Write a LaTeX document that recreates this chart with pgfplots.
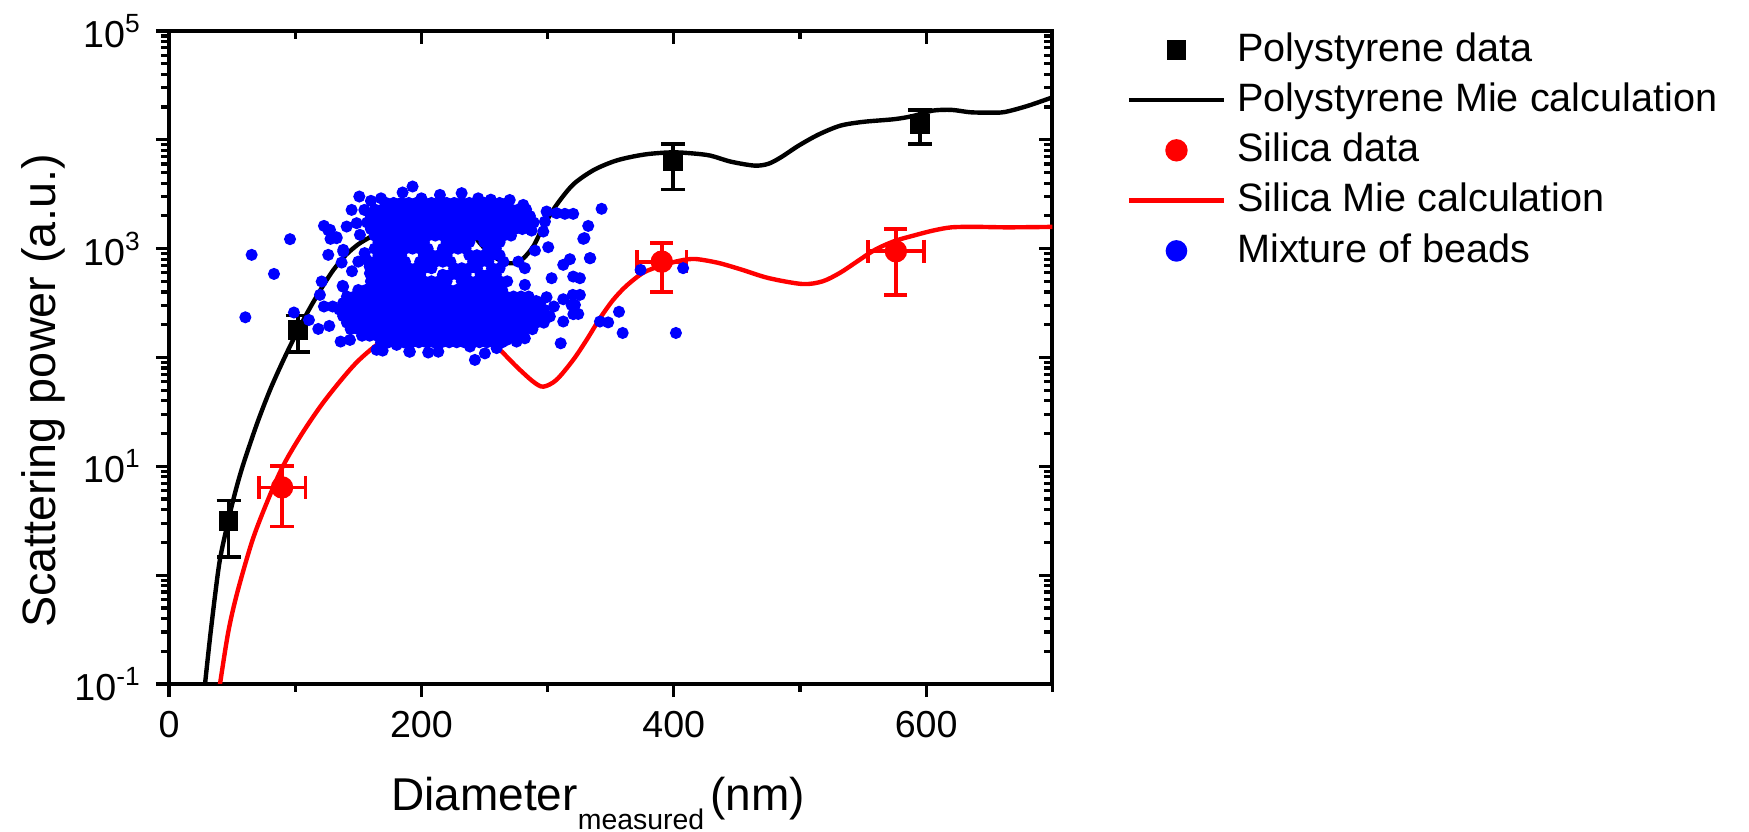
\documentclass[border=0pt]{standalone}
\usepackage{fontspec}
\setmainfont{Liberation Sans}
\usepackage{pgfplots}
\pgfplotsset{compat=1.18}
\definecolor{pblue}{RGB}{0,0,255}
\definecolor{pred}{RGB}{255,0,0}
\pgfplotsset{
  common/.style={
    scale only axis, width=220.85pt, height=163.25pt,
    at={(0pt,0pt)}, anchor=south west,
    xmin=0, xmax=700, ymin=0.1, ymax=100000,
    xtick={0,200,400,600}, minor xtick={100,300,500,700},
    ytick={0.1,1,10,100,1000,10000,100000},
    minor ytick={0.2,0.3,0.4,0.5,0.6,0.7,0.8,0.9,2,3,4,5,6,7,8,9,20,30,40,50,60,70,80,90,200,300,400,500,600,700,800,900,2000,3000,4000,5000,6000,7000,8000,9000,20000,30000,40000,50000,60000,70000,80000,90000},
    axis line style={line width=1pt, line cap=rect},
    tick style={line width=0.8pt, black},
    major tick length=3.3pt, minor tick length=2pt,
    tick label style={font=\fontsize{9.4}{11}\selectfont},
  }
}
\begin{document}
\begin{tikzpicture}
\begin{semilogyaxis}[common, axis x line*=top, axis y line*=right, tick align=inside,
  xticklabels={}, yticklabels={}]
\end{semilogyaxis}
\begin{semilogyaxis}[common, axis x line*=bottom, axis y line*=left, tick align=outside,
  xticklabels={0,200,400,600},
  yticklabels={10\textsuperscript{-1},,10\textsuperscript{1},,10\textsuperscript{3},,10\textsuperscript{5}},
  xlabel={Diameter\raisebox{-4.75pt}{\fontsize{7.1}{8}\selectfont measured}\hspace{1.5pt}(nm)},
  xlabel style={at={(axis description cs:0.4856,-0.193)}, anchor=base, font=\fontsize{11.5}{14}\selectfont},
  legend image code/.code={\draw[mark repeat=2,mark phase=2,#1] plot coordinates {(0pt,0pt) (11.875pt,0pt) (23.75pt,0pt)};},
  legend style={at={(rel axis cs:1,1)}, anchor=north west, xshift=18.6pt, yshift=-0.35pt,
    draw=none, fill=none, inner sep=0pt, outer sep=0pt, row sep=3.9pt, column sep=2.8pt,
    font=\fontsize{9.9}{12}\selectfont, nodes={inner sep=0pt}},
  legend cell align=left,
]
\coordinate (SW) at (rel axis cs:0,0);
% Polystyrene data
\addplot[only marks, mark=square*, black, mark size=2.25pt,
  error bars/.cd, y dir=both, y explicit,
  error bar style={line width=0.95pt, black},
  error mark options={rotate=90, mark size=3pt, line width=0.95pt, black}]
  table[x=x, y=y, y error=ey] {
x y ey
47.2 3.16 1.7
102 178 65
399.5 6300 2800
595 14000 4800
};
\addlegendentry{\vphantom{Py}Polystyrene data}
% Polystyrene Mie
\addplot[black, line width=1.1pt, smooth] coordinates {
(27,0.0676) (33,0.2985) (39.6,1.225) (45,2.512) (50,4.467) (55,7.413) (60,11.48)
(70,25.12) (80,50.12) (90,91.2) (100,158.5) (110,263) (120,416.9) (130,631)
(140,871) (150,1096) (160,1288) (170,1479) (185,1778) (205,1995) (222,1950) (236,1585)
(246.4,1122) (257,845.3) (270,734.5) (279.4,788.9) (288.6,1047) (296.6,1596)
(307,2512) (320.3,3890) (336.2,5248) (352,6310) (365,6918) (380,7413) (399,7674)
(415,7499) (429,7161) (445,6310) (464,5794) (475,6026) (485,6918) (499,8851)
(515,11220) (532,13490) (550,14620) (575,15490) (590,16600) (605,18540) (620,18840)
(635,17910) (650,17780) (662,17990) (680,20420) (700,24550)
};
\addlegendentry{\vphantom{Py}Polystyrene Mie calculation}
% Silica data
\addplot[only marks, mark=*, pred, mark size=2.6pt,
  error bars/.cd, x dir=both, x explicit, y dir=both, y explicit,
  error bar style={line width=0.95pt, pred},
  error mark options={rotate=90, mark size=2.9pt, line width=0.95pt, pred}]
  table[x=x, y=y, x error=ex, y error=ey] {
x y ex ey
89.6 6.4 18.5 3.6
390.5 760 19.5 360
576 946 22 570
};
\addlegendentry{\vphantom{Py}Silica data}
% Silica Mie
\addplot[pred, line width=1.1pt, smooth] coordinates {
(39,0.0794) (40.4,0.1) (47,0.302) (54.1,0.692) (66.2,2.104) (78.4,4.909) (90.5,10.14)
(105.6,20.14) (123.8,40.74) (148,88.5) (169.8,144.5) (185,170) (205,186) (225,182)
(241,167.1) (251.7,144.9) (262.2,117.5) (275.4,82.41)
(288.6,59.98) (296.6,53.95) (307,62.23) (320.3,95.06) (330.9,144.9) (341.5,229.1)
(352,338.8) (362.6,457.1) (376,602.6) (390,696.6) (405,776.2) (417,803.5) (435,741.3)
(453,645.7) (475,537) (502,473.2) (518,501.2) (532,602.6) (545,758.6) (559.5,977.2)
(575,1175) (590,1318) (605,1462) (620,1570) (640,1585) (665,1570) (700,1585)
};
\addlegendentry{\vphantom{Py}Silica Mie calculation}
% Mixture of beads
\addplot[only marks, mark=*, pblue, mark size=1.3pt, forget plot] coordinates {
(172,2630) (178,2630) (184,2630) (190,2630) (196,2630) (202,2630) (208,2630) (214,2630) (220,2630) (226,2630) (232,2630) (238,2630) (244,2630) (250,2630) (256,2630) (262,2630) (268,2630)
(163,2291) (169,2291) (175,2291) (181,2291) (187,2291) (193,2291) (199,2291) (205,2291) (211,2291) (217,2291) (223,2291) (229,2291) (235,2291) (241,2291) (247,2291) (253,2291) (259,2291) (265,2291) (271,2291) (277,2291) (283,2291)
(160,1995) (166,1995) (172,1995) (178,1995) (184,1995) (190,1995) (196,1995) (202,1995) (208,1995) (214,1995) (220,1995) (226,1995) (232,1995) (238,1995) (244,1995) (250,1995) (256,1995) (262,1995) (268,1995) (274,1995) (280,1995) (286,1995)
(157,1738) (163,1738) (169,1738) (175,1738) (181,1738) (187,1738) (193,1738) (199,1738) (205,1738) (211,1738) (217,1738) (223,1738) (229,1738) (235,1738) (241,1738) (247,1738) (253,1738) (259,1738) (265,1738) (271,1738) (277,1738) (283,1738) (289,1738)
(160,1514) (166,1514) (172,1514) (178,1514) (184,1514) (190,1514) (196,1514) (202,1514) (208,1514) (214,1514) (220,1514) (226,1514) (232,1514) (238,1514) (244,1514) (250,1514) (256,1514) (262,1514) (268,1514) (274,1514) (280,1514) (286,1514)
(163,1318) (169,1318) (175,1318) (181,1318) (187,1318) (193,1318) (199,1318) (205,1318) (211,1318) (217,1318) (223,1318) (229,1318) (235,1318) (241,1318) (247,1318) (253,1318) (259,1318) (265,1318) (271,1318)
(166,1148) (172,1148) (178,1148) (184,1148) (190,1148) (196,1148) (202,1148) (220,1148) (226,1148) (232,1148) (238,1148) (250,1148) (256,1148) (262,1148)
(163,1000) (169,1000) (175,1000) (181,1000) (187,1000) (193,1000) (199,1000) (205,1000) (217,1000) (223,1000) (229,1000) (235,1000) (253,1000) (259,1000)
(166,871) (172,871) (178,871) (184,871) (202,871) (208,871) (214,871) (220,871) (238,871) (244,871) (250,871) (256,871) (262,871)
(163,758.6) (169,758.6) (175,758.6) (181,758.6) (187,758.6) (199,758.6) (205,758.6) (211,758.6) (217,758.6) (223,758.6) (241,758.6) (247,758.6) (253,758.6) (265,758.6)
(160,660.7) (166,660.7) (172,660.7) (178,660.7) (184,660.7) (190,660.7) (196,660.7) (202,660.7) (208,660.7) (226,660.7) (232,660.7) (238,660.7) (244,660.7) (256,660.7) (262,660.7)
(163,575.4) (169,575.4) (175,575.4) (181,575.4) (187,575.4) (193,575.4) (199,575.4) (217,575.4) (223,575.4) (229,575.4) (235,575.4) (247,575.4) (253,575.4) (259,575.4)
(160,501.2) (166,501.2) (172,501.2) (178,501.2) (184,501.2) (190,501.2) (196,501.2) (202,501.2) (208,501.2) (214,501.2) (220,501.2) (232,501.2) (238,501.2) (244,501.2) (250,501.2) (256,501.2) (262,501.2) (268,501.2)
(159,686) (150,760) (155,910) (145,620) (138,447) (126.2,1479) (132.8,1274) (138.1,975)
(150,416.9) (156,416.9) (162,416.9) (168,416.9) (174,416.9) (180,416.9) (186,416.9) (192,416.9) (198,416.9) (204,416.9) (210,416.9) (216,416.9) (222,416.9) (228,416.9) (234,416.9) (240,416.9) (246,416.9) (252,416.9) (258,416.9) (264,416.9)
(141,363.1) (147,363.1) (153,363.1) (159,363.1) (165,363.1) (171,363.1) (177,363.1) (183,363.1) (189,363.1) (195,363.1) (201,363.1) (207,363.1) (213,363.1) (219,363.1) (225,363.1) (231,363.1) (237,363.1) (243,363.1) (249,363.1) (255,363.1) (261,363.1) (267,363.1) (273,363.1) (279,363.1) (285,363.1)
(138,316.2) (144,316.2) (150,316.2) (156,316.2) (162,316.2) (168,316.2) (174,316.2) (180,316.2) (186,316.2) (192,316.2) (198,316.2) (204,316.2) (210,316.2) (216,316.2) (222,316.2) (228,316.2) (234,316.2) (240,316.2) (246,316.2) (252,316.2) (258,316.2) (264,316.2) (270,316.2) (276,316.2) (282,316.2) (288,316.2) (294,316.2)
(135,275.4) (141,275.4) (147,275.4) (153,275.4) (159,275.4) (165,275.4) (171,275.4) (177,275.4) (183,275.4) (189,275.4) (195,275.4) (201,275.4) (207,275.4) (213,275.4) (219,275.4) (225,275.4) (231,275.4) (237,275.4) (243,275.4) (249,275.4) (255,275.4) (261,275.4) (267,275.4) (273,275.4) (279,275.4) (285,275.4) (291,275.4) (297,275.4)
(138,239.9) (144,239.9) (150,239.9) (156,239.9) (162,239.9) (168,239.9) (174,239.9) (180,239.9) (186,239.9) (192,239.9) (198,239.9) (204,239.9) (210,239.9) (216,239.9) (222,239.9) (228,239.9) (234,239.9) (240,239.9) (246,239.9) (252,239.9) (258,239.9) (264,239.9) (270,239.9) (276,239.9) (282,239.9) (288,239.9) (294,239.9)
(141,208.9) (147,208.9) (153,208.9) (159,208.9) (165,208.9) (171,208.9) (177,208.9) (183,208.9) (189,208.9) (195,208.9) (201,208.9) (207,208.9) (213,208.9) (219,208.9) (225,208.9) (231,208.9) (237,208.9) (243,208.9) (249,208.9) (255,208.9) (261,208.9) (267,208.9) (273,208.9) (279,208.9) (285,208.9) (291,208.9) (297,208.9)
(144,182) (150,182) (156,182) (162,182) (168,182) (174,182) (180,182) (186,182) (192,182) (198,182) (204,182) (210,182) (216,182) (222,182) (228,182) (234,182) (240,182) (246,182) (252,182) (258,182) (264,182) (270,182) (276,182) (282,182) (288,182)
(153,158.5) (159,158.5) (165,158.5) (171,158.5) (177,158.5) (183,158.5) (189,158.5) (195,158.5) (201,158.5) (207,158.5) (213,158.5) (219,158.5) (225,158.5) (231,158.5) (237,158.5) (243,158.5) (249,158.5) (255,158.5) (261,158.5) (267,158.5) (273,158.5) (279,158.5)
(168,138) (174,138) (180,138) (186,138) (192,138) (198,138) (204,138) (210,138) (216,138) (222,138) (228,138) (234,138) (240,138) (246,138) (252,138) (258,138) (264,138)
(65.5,877) (83.2,586) (60.5,234) (95.9,1222) (99,259) (110.9,221) (118.3,183) (127,195) (122.8,1619) (127.6,1489) (126.2,877) (128,1230) (132.8,1247) (138.1,940) (136.8,745) (137.6,455) (121,499) (119.6,376) (122.8,294) (129.7,294) (140.8,1596) (144.7,2270) (150.8,3013) (154.8,2270) (148.7,1714) (151.3,1340) (156.6,789) (159.2,594) (136,140) (143.4,145) (164.5,117.6) (169.3,115.6) (190.4,113.3) (180.4,130.6) (185.1,3281) (193,3724)
(160,2750) (168,2900) (200,2900) (214.7,3119) (231.9,3236) (245,2900) (255,2820) (270,2800) (280.7,2523)
(299.2,2193) (307.1,2118) (313.7,2089) (320.3,2089) (342.8,2323) (297.9,1774) (287.3,1466) (296.6,1436) (332.2,1617) (328.3,1230) (300.5,1031) (290,961) (333.5,817) (317.7,800) (312.4,710) (276.8,760) (282,661) (303.2,535) (320.3,554) (325.6,535) (282,465) (325.6,376) (312.4,343) (321.7,304) (299.2,358) (324.3,251) (312.4,214) (301.8,238) (341.5,214) (348,210) (356.6,263) (359.5,168) (310.4,135) (242.4,95) (250.3,109) (259.6,122) (190.9,113) (205.4,111) (213.4,113) (238.5,126) (267.5,145) (275.4,140) (282,150) (284.7,192) (291.3,294) (305,294) (291,330)
(373.7,638) (407.4,662) (401.7,168) (329.2,1250) (333.8,818) (320,376) (319,304) (320.4,250)
};
\addlegendimage{only marks, mark=*, pblue, mark size=2.5pt}
\addlegendentry{\vphantom{Py}Mixture of beads}
\end{semilogyaxis}
\node[rotate=90, anchor=base, font=\fontsize{11.7}{14}\selectfont] at ([shift={(-28.25pt,73.25pt)}]SW) {Scattering power (a.u.)};
\pgfresetboundingbox
\path[use as bounding box] ([shift={(-42.25pt,-37pt)}]SW) rectangle ([shift={(395pt,171pt)}]SW);
\end{tikzpicture}
\end{document}
